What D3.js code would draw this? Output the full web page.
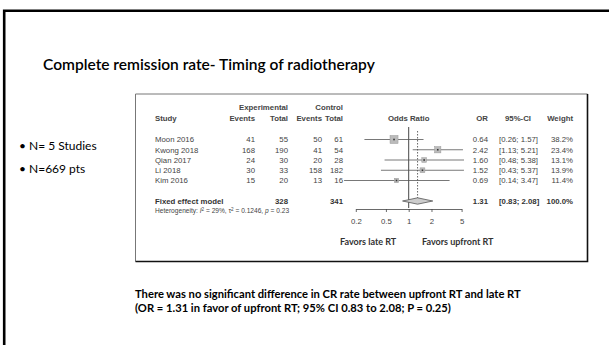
<!DOCTYPE html>
<html>
<head>
<meta charset="utf-8">
<script src="https://cdn.jsdelivr.net/npm/d3@7"></script>
<style>
  body { margin: 0; background: #fff; }
  svg { display: block; }
  .fp { font-family: "Liberation Sans", Arial, sans-serif; fill: #444; }
  .slide { font-family: Lato, "Open Sans", sans-serif; fill: #000; }
</style>
</head>
<body>
<div id="chart"></div>
<script>
// study rows
var studies   = ["Moon 2016", "Kwong 2018", "Qian 2017", "Li 2018", "Kim 2016"];
var expEvents = [41, 168, 24, 30, 15];
var expTotal  = [55, 190, 30, 33, 20];
var ctlEvents = [50, 41, 20, 158, 13];
var ctlTotal  = [61, 54, 28, 182, 16];
var oddsRatio = [0.64, 2.42, 1.60, 1.52, 0.69];
var ciLow     = [0.26, 1.13, 0.48, 0.43, 0.14];
var ciHigh    = [1.57, 5.21, 5.38, 5.37, 3.47];
var weights   = [38.2, 23.4, 13.1, 13.9, 11.4];

// pooled (fixed effect)
var pooled = {or: 1.31, lo: 0.83, hi: 2.08, expTotal: 328, ctlTotal: 341, weight: 100.0};
var tickVals = [0.2, 0.5, 1, 2, 5];

var W = 609, H = 345;
var svg = d3.select("#chart").append("svg").attr("width", W).attr("height", H);

// shrink/grow font so the text spans the width seen in the slide; returns the size used
function fitText(sel, width, size) {
    sel.style("font-size", size + "px");
    var w = sel.node().getComputedTextLength();
    var s = size * width / w;
    sel.style("font-size", s.toFixed(2) + "px");
    return s;
}

// slide frame
svg.append("path")
    .attr("d", "M4.2," + H + "V10.8H" + W)
    .attr("fill", "none").attr("stroke", "#000").attr("stroke-width", 2.6);

var title = svg.append("text").attr("class", "slide")
    .attr("x", 43).attr("y", 70)
    .style("font-weight", "600")
    .text("Complete remission rate- Timing of radiotherapy");
fitText(title, 332, 16);

svg.append("text").attr("class", "slide").attr("x", 19).attr("y", 150)
    .style("font-size", "12px").text("\u2022 N= 5 Studies");
svg.append("text").attr("class", "slide").attr("x", 19).attr("y", 173)
    .style("font-size", "12px").text("\u2022 N=669 pts");

// forest plot box
var box = {x0: 135.5, y0: 94, x1: 587.5, y1: 261.5};
svg.append("path")
    .attr("d", "M" + box.x0 + "," + box.y1 + "V" + box.y0 + "H" + box.x1)
    .attr("fill", "none").attr("stroke", "#777").attr("stroke-width", 1);
svg.append("path")
    .attr("d", "M" + box.x1 + "," + box.y0 + "V" + box.y1 + "H" + box.x0)
    .attr("fill", "none").attr("stroke", "#111").attr("stroke-width", 1.6);

var x = d3.scaleLog().domain([0.2, 5]).range([355.8, 461.6]);
var y = d3.scalePoint().domain(studies).range([139.5, 180.5]);
var yPooled = 201;

var g = svg.append("g").attr("class", "fp");
var fs = "7.8px";

// headers
function hdr(txt, xx, yy, anchor) {
    g.append("text").attr("x", xx).attr("y", yy).attr("text-anchor", anchor || "start")
        .style("font-size", fs).style("font-weight", "bold").text(txt);
}
hdr("Experimental", 288, 110, "end");
hdr("Control", 343, 110, "end");
hdr("Study", 155, 121);
hdr("Events", 255, 121, "end");
hdr("Total", 288, 121, "end");
hdr("Events", 322, 121, "end");
hdr("Total", 343, 121, "end");
hdr("Odds Ratio", x(1), 121, "middle");
hdr("OR", 488, 121, "end");
hdr("95%-CI", 531, 121, "end");
hdr("Weight", 573, 121, "end");

// table columns
var cols = [
    {vals: studies, x: 155, anchor: "start"},
    {vals: expEvents, x: 255, anchor: "end"},
    {vals: expTotal, x: 288, anchor: "end"},
    {vals: ctlEvents, x: 322, anchor: "end"},
    {vals: ctlTotal, x: 343, anchor: "end"},
    {vals: oddsRatio.map(function(d){ return d.toFixed(2); }), x: 488, anchor: "end"},
    {vals: ciLow.map(function(d, i){ return "[" + d.toFixed(2) + "; " + ciHigh[i].toFixed(2) + "]"; }), x: 499, anchor: "start"},
    {vals: weights.map(function(d){ return d.toFixed(1) + "%"; }), x: 573, anchor: "end"}
];
cols.forEach(function(c) {
    g.selectAll(null).data(c.vals).enter().append("text")
        .attr("x", c.x)
        .attr("y", function(d, i){ return y(studies[i]) + 2.8; })
        .attr("text-anchor", c.anchor)
        .style("font-size", fs)
        .text(function(d){ return d; });
});

// pooled row text
function bold(txt, xx, anchor) {
    g.append("text").attr("x", xx).attr("y", yPooled + 2.8).attr("text-anchor", anchor)
        .style("font-size", fs).style("font-weight", "bold").style("fill", "#333").text(txt);
}
bold("Fixed effect model", 155, "start");
bold(pooled.expTotal, 288, "end");
bold(pooled.ctlTotal, 343, "end");
bold(pooled.or.toFixed(2), 488, "end");
bold("[" + pooled.lo.toFixed(2) + "; " + pooled.hi.toFixed(2) + "]", 499, "start");
bold(pooled.weight.toFixed(1) + "%", 573, "end");

var het = g.append("text").attr("x", 155).attr("y", 213).style("font-size", "6.6px");
het.append("tspan").text("Heterogeneity: ");
het.append("tspan").style("font-style", "italic").text("I");
het.append("tspan").attr("dy", -2.5).style("font-size", "4.6px").text("2");
het.append("tspan").attr("dy", 2.5).text(" = 29%, \u03c4");
het.append("tspan").attr("dy", -2.5).style("font-size", "4.6px").text("2");
het.append("tspan").attr("dy", 2.5).text(" = 0.1246, ");
het.append("tspan").style("font-style", "italic").text("p");
het.append("tspan").text(" = 0.23");

// reference lines
g.append("line").attr("x1", x(1)).attr("x2", x(1)).attr("y1", 127).attr("y2", 208)
    .attr("stroke", "#333").attr("stroke-width", 0.9);
g.append("line").attr("x1", x(pooled.or)).attr("x2", x(pooled.or)).attr("y1", 131).attr("y2", 199)
    .attr("stroke", "#555").attr("stroke-width", 0.9).attr("stroke-dasharray", "1.5,1.5");

// CI lines
g.selectAll(".ci").data(studies).enter().append("line").attr("class", "ci")
    .attr("x1", function(d, i){ return x(ciLow[i]); })
    .attr("x2", function(d, i){ return x(ciHigh[i]); })
    .attr("y1", function(d){ return y(d); })
    .attr("y2", function(d){ return y(d); })
    .attr("stroke", "#555").attr("stroke-width", 0.8);

// squares sized by weight
var side = d3.scaleSqrt().domain([0, 38.2]).range([0, 8]);
g.selectAll(".sq").data(studies).enter().append("rect").attr("class", "sq")
    .attr("x", function(d, i){ return x(oddsRatio[i]) - side(weights[i]) / 2; })
    .attr("y", function(d, i){ return y(d) - side(weights[i]) / 2; })
    .attr("width", function(d, i){ return side(weights[i]); })
    .attr("height", function(d, i){ return side(weights[i]); })
    .attr("fill", "#bbb").attr("stroke", "#999").attr("stroke-width", 0.5);
g.selectAll(".dot").data(studies).enter().append("rect").attr("class", "dot")
    .attr("x", function(d, i){ return x(oddsRatio[i]) - 0.8; })
    .attr("y", function(d){ return y(d) - 0.8; })
    .attr("width", 1.6).attr("height", 1.6).attr("fill", "#333");

// diamond
g.append("path")
    .attr("d", "M" + x(pooled.lo) + "," + yPooled + "L" + x(pooled.or) + "," + (yPooled - 3.2) +
        "L" + x(pooled.hi) + "," + yPooled + "L" + x(pooled.or) + "," + (yPooled + 3.2) + "Z")
    .attr("fill", "#ccc").attr("stroke", "#555").attr("stroke-width", 0.8);

// axis
var axis = d3.axisBottom(x).tickValues(tickVals).tickSize(3).tickSizeOuter(0)
    .tickFormat(function(d){ return String(d); });
var ax = svg.append("g").attr("transform", "translate(0,209)").call(axis);
ax.select(".domain").attr("stroke", "#444").attr("stroke-width", 0.8);
ax.selectAll(".tick line").attr("stroke", "#444").attr("stroke-width", 0.8);
ax.selectAll(".tick text").attr("y", 9).attr("fill", "#444")
    .style("font-family", "Liberation Sans, Arial, sans-serif").style("font-size", "7.8px");

svg.append("text").attr("class", "slide").attr("x", 340).attr("y", 245)
    .style("font-weight", "bold").style("fill", "#333").style("font-size", "9px")
    .text("Favors late RT");
svg.append("text").attr("class", "slide").attr("x", 422).attr("y", 245)
    .style("font-weight", "bold").style("fill", "#333").style("font-size", "9px")
    .text("Favors upfront RT");

// conclusion
var cs = fitText(svg.append("text").attr("class", "slide").attr("x", 135).attr("y", 298)
    .style("font-weight", "bold")
    .text("There was no significant difference in CR rate between upfront RT and late RT"), 386, 9.6);
svg.append("text").attr("class", "slide").attr("x", 135).attr("y", 312)
    .style("font-weight", "bold").style("font-size", cs.toFixed(2) + "px")
    .text("(OR = 1.31 in favor of upfront RT; 95% CI 0.83 to 2.08; P = 0.25)");
</script>
</body>
</html>
